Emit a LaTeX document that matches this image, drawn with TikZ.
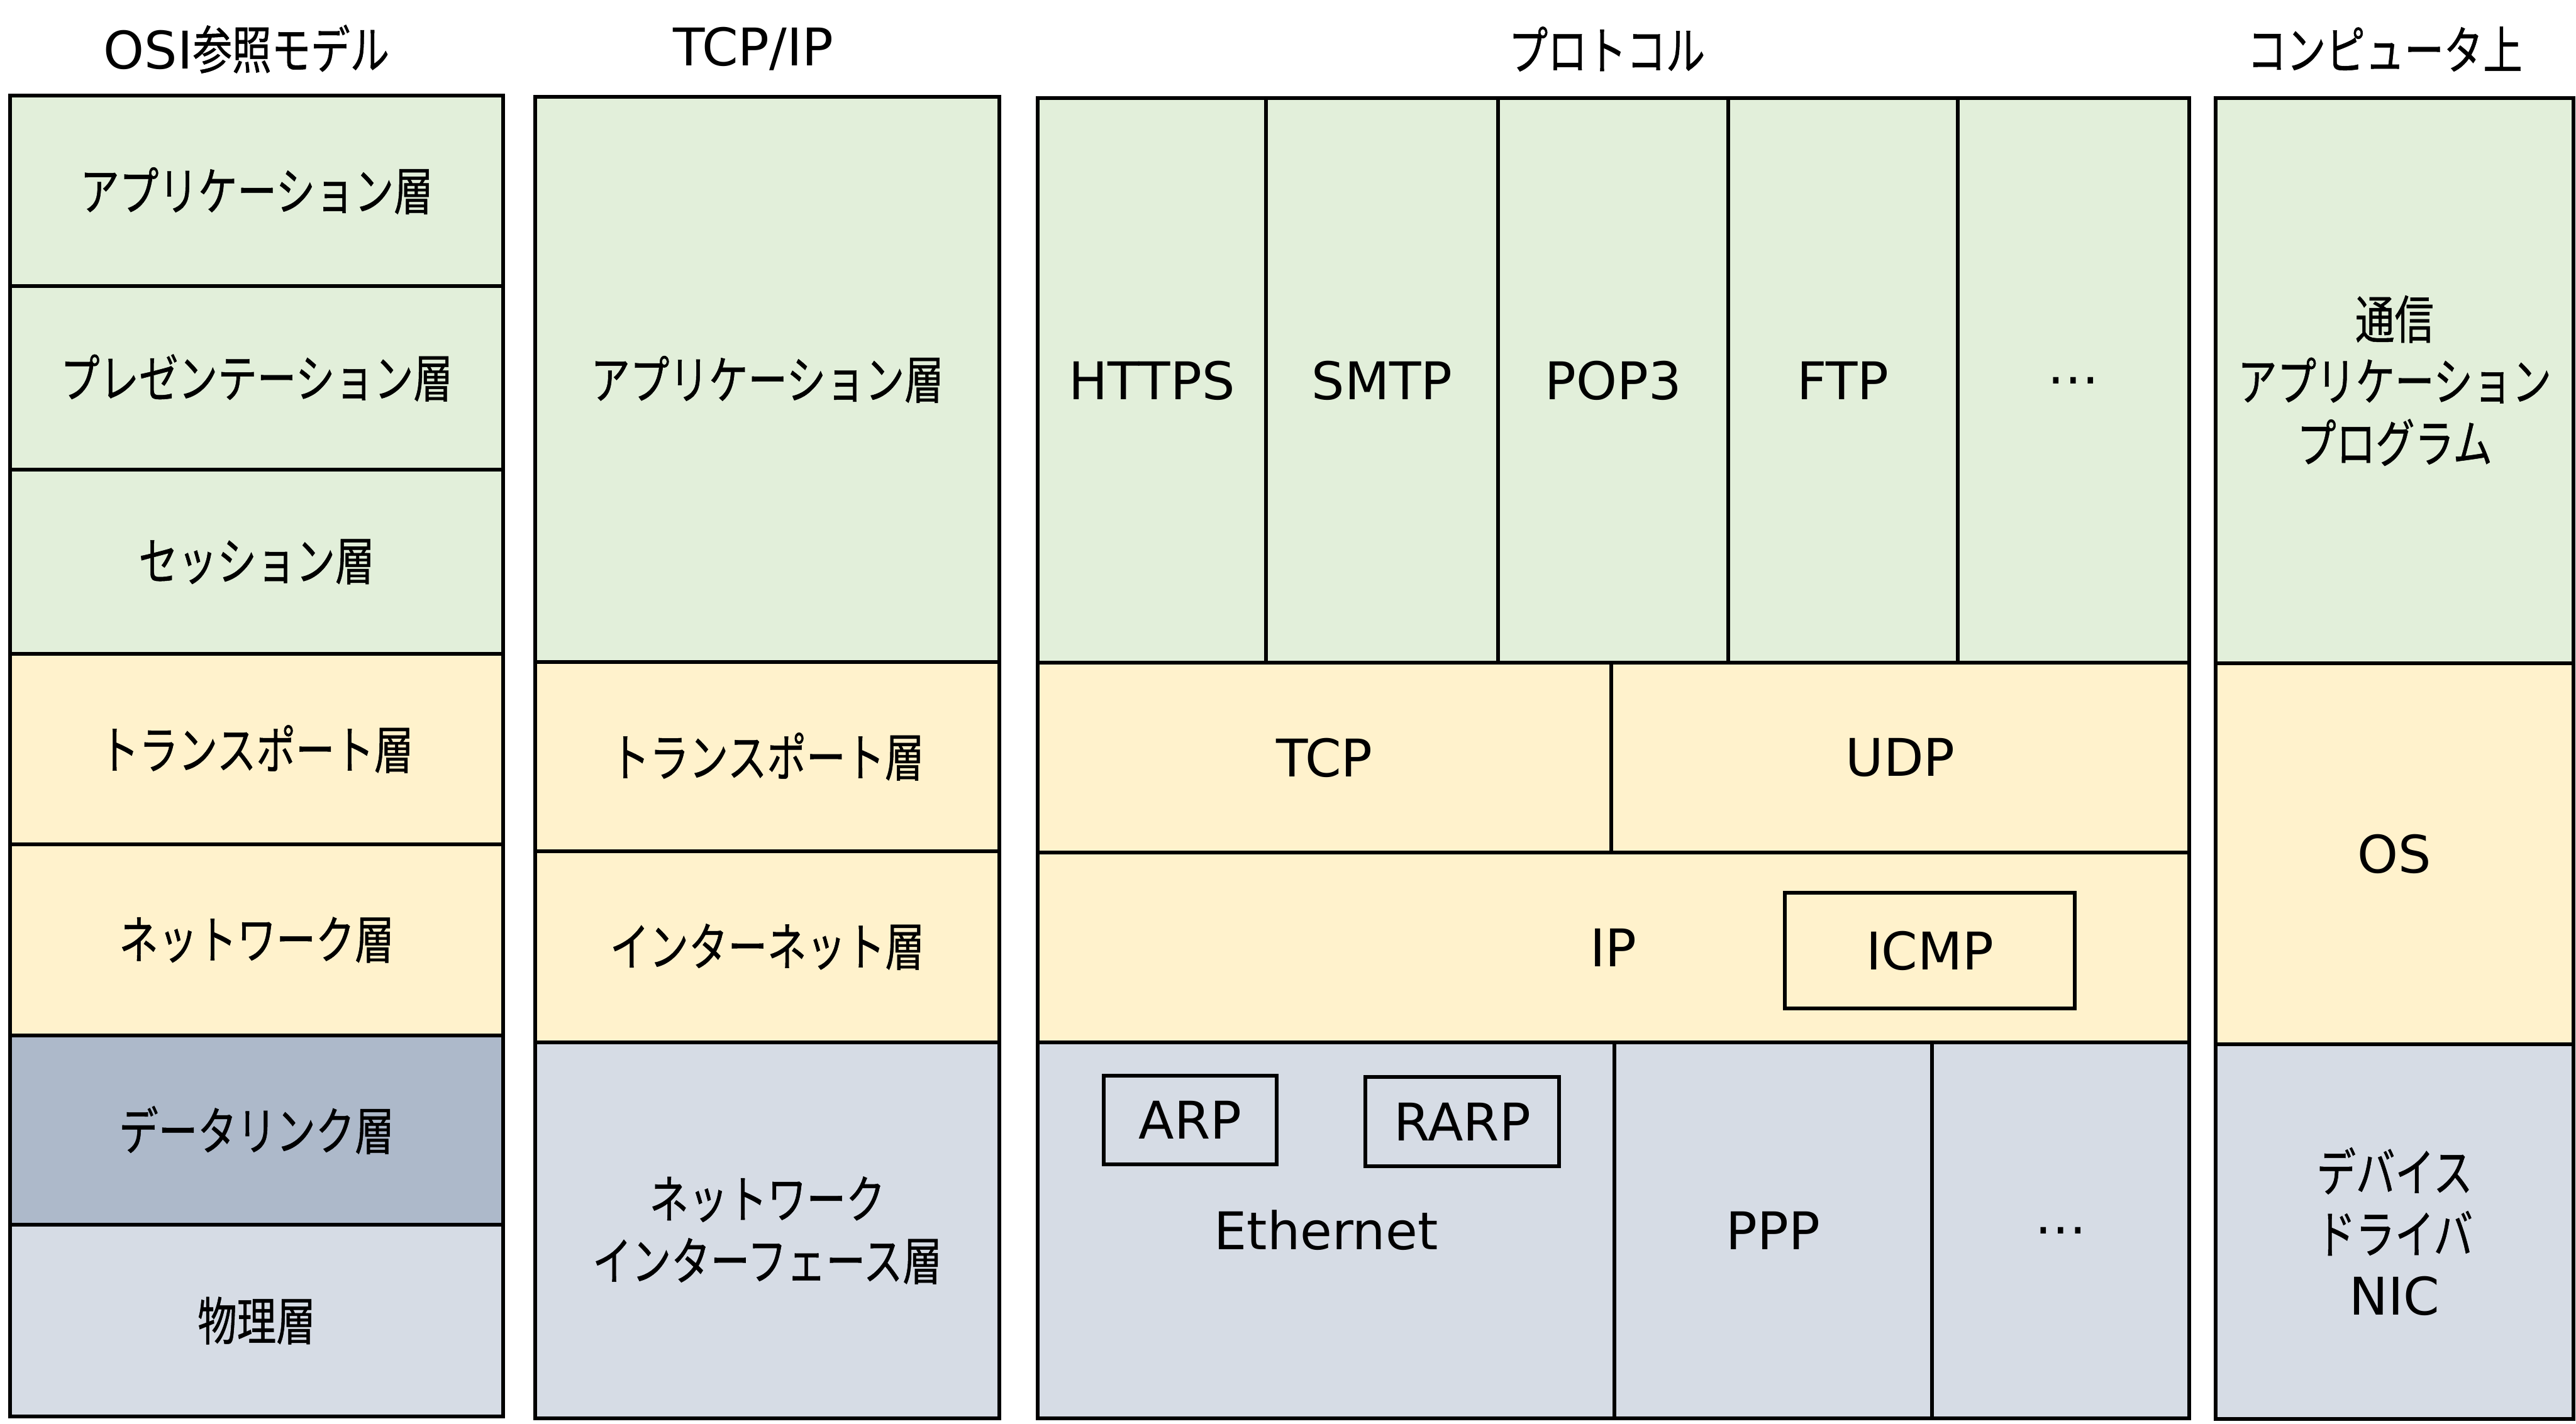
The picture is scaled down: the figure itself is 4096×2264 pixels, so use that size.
\documentclass[tikz,border=0pt]{standalone}
\usepackage{fontspec}
\setmainfont{DejaVu Sans}
\newfontfamily\jpfam[FakeStretch=0.76,FakeBold=0.6]{Noto Sans CJK JP}
\definecolor{cg}{HTML}{E2EFDA}
\definecolor{cy}{HTML}{FFF2CC}
\definecolor{cb}{HTML}{D6DCE5}
\definecolor{cd}{HTML}{ADB9CA}
\newcommand\jpsz{\jpfam\fontsize{23.4pt}{28pt}\selectfont}
\newcommand\latsz{\rmfamily\fontsize{23.5pt}{28pt}\selectfont}
\tikzset{
  box/.style={draw=black, line width=0.55mm, inner sep=0pt, outer sep=0pt, align=center, font=\latsz},
  jp/.style={font=\jpsz},
  ttl/.style={inner sep=0pt, outer sep=0pt, font=\latsz},
}
\newcommand\bx[7][]{\node[box,#1,fill=#7,minimum width={(#5-#3)*0.1mm},minimum height={(#6-#4)*0.1mm}] (#2) at ({(#3+#5)/2},{(#4+#6)/2})}
\begin{document}
\begin{tikzpicture}[x=0.1mm,y=-0.1mm]
\useasboundingbox (0,0) rectangle (4096,2264);
\fill[white] (0,0) rectangle (4096,2264);
% titles
\node[ttl] (t1) at (392,78) {OSI{\jpsz 参照モデル}};
\node[ttl] (t2) at (1198,78) {TCP/IP};
\node[ttl] (t3) at (2555,78) {{\jpsz プロトコル}};
\node[ttl] (t4) at (3792,78) {{\jpsz コンピュータ上}};
% OSI
\bx[jp]{osiA}{16}{152}{800}{455}{cg}{アプリケーション層};
\bx[jp]{osiP}{16}{455}{800}{747}{cg}{プレゼンテーション層};
\bx[jp]{osiS}{16}{747}{800}{1040}{cg}{セッション層};
\bx[jp]{osiT}{16}{1040}{800}{1343}{cy}{トランスポート層};
\bx[jp]{osiN}{16}{1343}{800}{1647}{cy}{ネットワーク層};
\bx[jp]{osiD}{16}{1647}{800}{1948}{cd}{データリンク層};
\bx[jp]{osiPh}{16}{1948}{800}{2253}{cb}{物理層};
% TCP/IP
\bx[jp]{tiA}{851}{154}{1589}{1053}{cg}{アプリケーション層};
\bx[jp]{tiT}{851}{1053}{1589}{1354}{cy}{トランスポート層};
\bx[jp]{tiI}{851}{1354}{1589}{1658}{cy}{インターネット層};
\bx[jp]{tiN}{851}{1658}{1589}{2256}{cb}{ネットワーク\\インターフェース層};
% protocols
\bx{https}{1650}{156}{2013}{1054}{cg}{HTTPS};
\bx{smtp}{2013}{156}{2382}{1054}{cg}{SMTP};
\bx{pop}{2382}{156}{2748}{1054}{cg}{POP3};
\bx{ftp}{2748}{156}{3113}{1054}{cg}{FTP};
\bx{etcA}{3113}{156}{3481}{1054}{cg}{…};
\bx{tcp}{1650}{1054}{2562}{1356}{cy}{TCP};
\bx{udp}{2562}{1054}{3481}{1356}{cy}{UDP};
\bx{ip}{1650}{1356}{3481}{1658}{cy}{IP};
\bx{icmp}{2838}{1420}{3299}{1604}{cy}{ICMP};
\bx{eth}{1650}{1658}{2567}{2256}{cb}{Ethernet};
\bx{ppp}{2567}{1658}{3072}{2256}{cb}{PPP};
\bx{etcL}{3072}{1658}{3481}{2256}{cb}{…};
\bx{arp}{1755}{1711}{2030}{1852}{cb}{ARP};
\bx{rarp}{2171}{1713}{2479}{1855}{cb}{RARP};
% computer
\bx[jp]{capp}{3523}{156}{4092}{1055}{cg}{通信\\アプリケーション\\プログラム};
\bx{cos}{3523}{1055}{4092}{1661}{cy}{OS};
\bx[jp]{cdev}{3523}{1661}{4092}{2257}{cb}{デバイス\\ドライバ\\{\latsz NIC}};
\end{tikzpicture}
\end{document}
